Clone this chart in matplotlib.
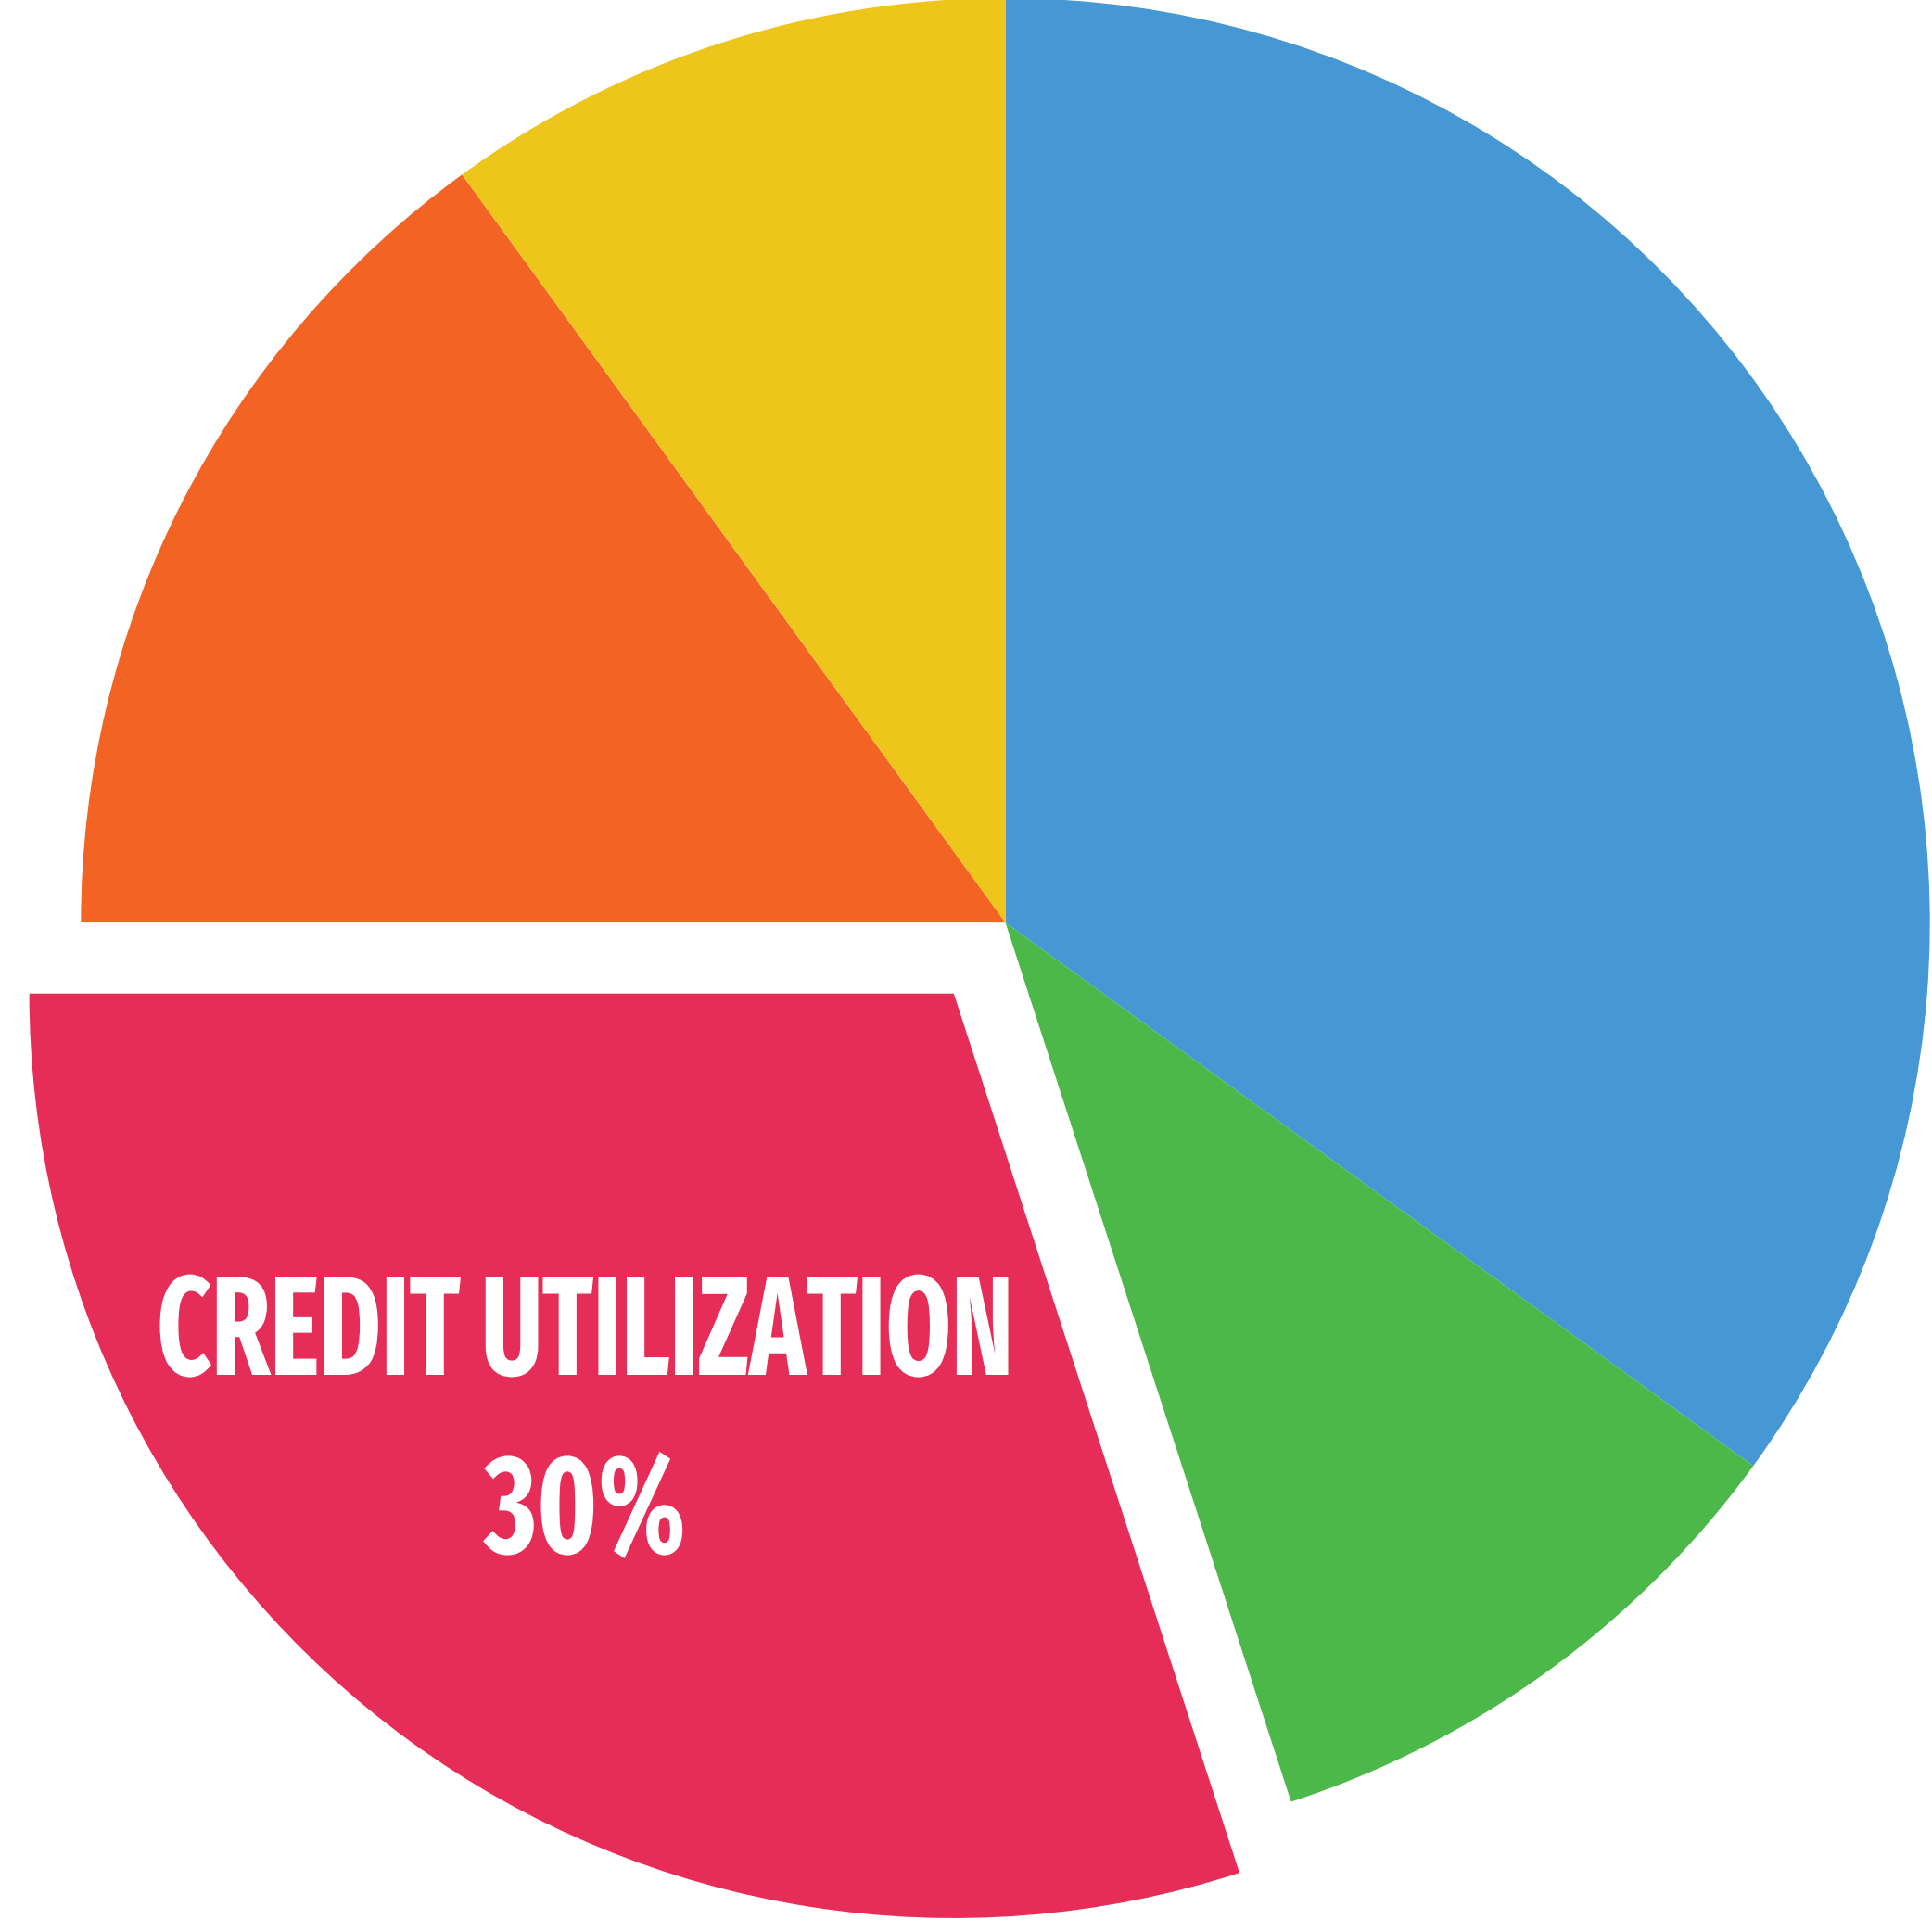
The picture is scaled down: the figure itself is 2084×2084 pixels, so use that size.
import os
import matplotlib
matplotlib.use("Agg")
import matplotlib.pyplot as plt
from matplotlib import font_manager
from matplotlib.font_manager import FontProperties
from matplotlib.patheffects import AbstractPathEffect
from matplotlib.textpath import TextPath
from matplotlib.transforms import Affine2D

# credit score breakdown
labels = ["Payment History", "New Credit", "Credit Utilization", "Length of Credit History", "Credit Mix"]
values = [35, 10, 30, 15, 10]
colors = ["#4598D3", "#4DB84A", "#E62D57", "#F26324", "#EEC51A"]
explode = [0, 0, 0.095, 0, 0]

label_text = "CREDIT UTILIZATION"
pct_text = "30%"

DPI = 100
SIZE = 2084


def pick_font():
    # narrowest bold face we can find, else DejaVu Sans Bold
    best, best_rank = None, 99
    for f in font_manager.fontManager.ttflist:
        base = os.path.basename(f.fname).lower().replace("-", "").replace("_", "")
        if "bold" not in base or "semibold" in base or "extrabold" in base or "italic" in base:
            continue
        if "extracondensed" in base or "ultracondensed" in base:
            rank = 0
        elif "semicondensed" in base:
            rank = 2
        elif "condensed" in base or "narrow" in base:
            rank = 1
        else:
            continue
        if rank < best_rank:
            best, best_rank = f.fname, rank
    if best:
        return FontProperties(fname=best)
    return FontProperties(family="DejaVu Sans", weight="bold")


class Squeeze(AbstractPathEffect):
    """scale the drawn glyphs around an anchor point (display px)"""
    def __init__(self, sx, sy, x0, y0):
        super().__init__()
        self.sx, self.sy, self.x0, self.y0 = sx, sy, x0, y0

    def draw_path(self, renderer, gc, tpath, affine, rgbFace=None):
        t = affine + Affine2D().translate(-self.x0, -self.y0).scale(self.sx, self.sy).translate(self.x0, self.y0)
        renderer.draw_path(gc, tpath, t, rgbFace)


def fitted_text(fig, s, fp, xc, ybase, width_px, height_px):
    ext = TextPath((0, 0), s, size=1, prop=fp).get_extents()
    fs_px = width_px / ext.width
    sy = height_px / (fs_px * ext.height)
    x0, y0 = xc * SIZE, ybase * SIZE
    fig.text(xc, ybase, s, ha="center", va="baseline", color="white",
             fontproperties=fp, fontsize=fs_px * 72 / DPI,
             path_effects=[Squeeze(1.0, sy, x0, y0)])


fig = plt.figure(figsize=(SIZE / DPI, SIZE / DPI), dpi=DPI)
ax = fig.add_axes([0, 0, 1, 1])

ax.pie(values, colors=colors, explode=explode, startangle=90, counterclock=False,
       radius=1, wedgeprops=dict(linewidth=0))

# position the pie like the reference
r = 0.4785
cx, cy = 0.5204, 0.5225
ax.set_xlim(-cx / r, (1 - cx) / r)
ax.set_ylim(-cy / r, (1 - cy) / r)
ax.set_aspect("equal")
ax.axis("off")

fp = pick_font()
fitted_text(fig, label_text, fp, 0.3027, 1 - 1483 / SIZE, 915, 111)
fitted_text(fig, pct_text, fp, 0.3028, 1 - 1675 / SIZE, 215, 115)

fig.savefig("out.png", dpi=DPI, facecolor="white")
